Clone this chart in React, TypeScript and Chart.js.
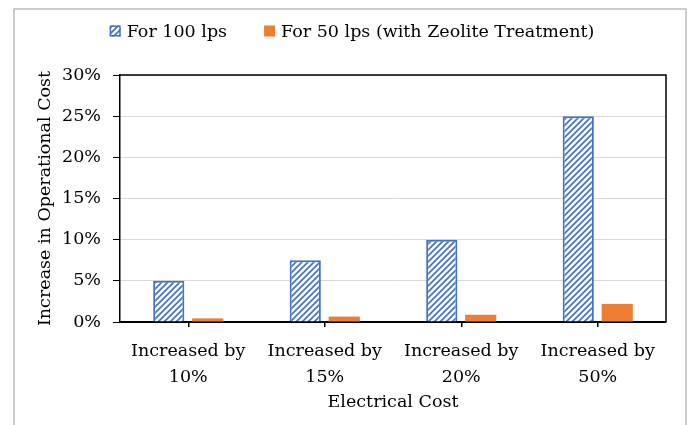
import React, { useEffect, useRef } from "react";
import { Chart, registerables } from "chart.js";

Chart.register(...registerables);

// ---- data ----
const categories: string[][] = [
  ["Increased by", "10%"],
  ["Increased by", "15%"],
  ["Increased by", "20%"],
  ["Increased by", "50%"],
];
const seriesNames = ["For 100 lps", "For 50 lps (with Zeolite Treatment)"];
const values100 = [5, 7.5, 10, 25];
const values50 = [0.44, 0.66, 0.88, 2.2];
const yMin = 0;
const yMax = 30;
const yStep = 5;
const yTitle = "Increase in Operational Cost";
const xTitle = "Electrical Cost";

const FONT = "'DejaVu Serif', serif";
const FS = 17.5;
const BLUE = "#4472C4";
const ORANGE = "#ED7D31";

function makeHatch(ctx: CanvasRenderingContext2D): CanvasPattern | string {
  const s = 6;
  const tile = document.createElement("canvas");
  tile.width = s;
  tile.height = s;
  const g = tile.getContext("2d");
  if (!g) return BLUE;
  g.fillStyle = "#ffffff";
  g.fillRect(0, 0, s, s);
  g.strokeStyle = BLUE;
  g.lineWidth = 1.7;
  g.beginPath();
  g.moveTo(-1, s + 1);
  g.lineTo(s + 1, -1);
  g.moveTo(-1, 1);
  g.lineTo(1, -1);
  g.moveTo(s - 1, s + 1);
  g.lineTo(s + 1, s - 1);
  g.stroke();
  return ctx.createPattern(tile, "repeat") || BLUE;
}

const framePlugin = {
  id: "frame",
  beforeDraw(chart: any) {
    const ctx = chart.ctx;
    ctx.save();
    ctx.strokeStyle = "#bcbcbc";
    ctx.lineWidth = 1.5;
    ctx.beginPath();
    ctx.moveTo(14, chart.height);
    ctx.lineTo(14, 9);
    ctx.lineTo(686, 9);
    ctx.lineTo(686, chart.height);
    ctx.stroke();
    ctx.restore();
  },
};

const plotBorderPlugin = {
  id: "plotBorder",
  afterDatasetsDraw(chart: any) {
    const { ctx, chartArea } = chart;
    ctx.save();
    ctx.strokeStyle = "#000";
    ctx.lineWidth = 1.5;
    ctx.beginPath();
    ctx.moveTo(chartArea.left, chartArea.top);
    ctx.lineTo(chartArea.right, chartArea.top);
    ctx.lineTo(chartArea.right, chartArea.bottom);
    ctx.stroke();
    ctx.restore();
  },
};

const legendPlugin = {
  id: "customLegend",
  afterDraw(chart: any) {
    const ctx = chart.ctx;
    ctx.save();
    ctx.font = `${FS}px ${FONT}`;
    const box = 11;
    const gap = 6;
    const spacing = 37;
    const items = chart.data.datasets.map((ds: any) => ({
      ds,
      text: ds.label as string,
      w: ctx.measureText(ds.label).width,
    }));
    const total =
      items.reduce((s: number, it: any) => s + box + gap + it.w, 0) +
      spacing * (items.length - 1);
    let x = 352 - total / 2;
    const y = 31;
    items.forEach((it: any) => {
      ctx.fillStyle = it.ds.backgroundColor;
      ctx.fillRect(x, y - box / 2, box, box);
      if (it.ds.borderWidth) {
        ctx.strokeStyle = it.ds.borderColor;
        ctx.lineWidth = 1.5;
        ctx.strokeRect(x + 0.75, y - box / 2 + 0.75, box - 1.5, box - 1.5);
      }
      ctx.fillStyle = "#000";
      ctx.textBaseline = "middle";
      ctx.textAlign = "left";
      ctx.fillText(it.text, x + box + gap, y + 1);
      x += box + gap + it.w + spacing;
    });
    ctx.restore();
  },
};

export default function App() {
  const canvasRef = useRef<HTMLCanvasElement | null>(null);

  useEffect(() => {
    const canvas = canvasRef.current;
    if (!canvas) return;
    const ctx = canvas.getContext("2d");
    if (!ctx) return;
    const hatch = makeHatch(ctx);

    const chart = new Chart(ctx, {
      type: "bar",
      data: {
        labels: categories,
        datasets: [
          {
            label: seriesNames[0],
            data: values100,
            backgroundColor: hatch as any,
            borderColor: BLUE,
            borderWidth: 2,
            categoryPercentage: 0.571,
            barPercentage: 0.8,
          },
          {
            label: seriesNames[1],
            data: values50,
            backgroundColor: ORANGE,
            borderWidth: 0,
            categoryPercentage: 0.571,
            barPercentage: 0.8,
          },
        ],
      },
      options: {
        responsive: false,
        animation: false,
        devicePixelRatio: 1,
        layout: { padding: { top: 75, right: 22, left: 14, bottom: 0 } },
        plugins: {
          legend: { display: false },
          tooltip: { enabled: false },
        },
        scales: {
          x: {
            grid: {
              offset: false,
              drawOnChartArea: false,
              drawTicks: true,
              tickLength: 5,
              tickColor: "#000",
              lineWidth: 1.5,
            },
            border: { color: "#000", width: 2 },
            ticks: {
              color: "#000",
              padding: 11,
              maxRotation: 0,
              autoSkip: false,
              font: { family: FONT, size: FS, lineHeight: 1.49 },
            },
            title: {
              display: true,
              text: xTitle,
              color: "#000",
              font: { family: FONT, size: FS },
              padding: { top: 0, bottom: 12 },
            },
            afterFit: (scale: any) => {
              scale.height = 103;
            },
          },
          y: {
            min: yMin,
            max: yMax,
            grid: {
              color: "#d9d9d9",
              lineWidth: 1,
              tickColor: "#000",
              tickLength: 7,
            },
            border: { color: "#000", width: 1.5 },
            ticks: {
              stepSize: yStep,
              color: "#000",
              padding: 12,
              font: { family: FONT, size: FS },
              callback: (v: any) => `${v}%`,
            },
            title: {
              display: true,
              text: yTitle,
              color: "#000",
              font: { family: FONT, size: FS },
              padding: { top: 21, bottom: 0 },
            },
            afterFit: (scale: any) => {
              scale.width = 106;
            },
          },
        },
      },
      plugins: [framePlugin, plotBorderPlugin, legendPlugin],
    });

    return () => {
      chart.destroy();
    };
  }, []);

  return (
    <div style={{ position: "fixed", left: 0, top: 0, width: 688, height: 425, background: "#fff" }}>
      <canvas ref={canvasRef} width={688} height={425} style={{ display: "block" }} />
    </div>
  );
}
